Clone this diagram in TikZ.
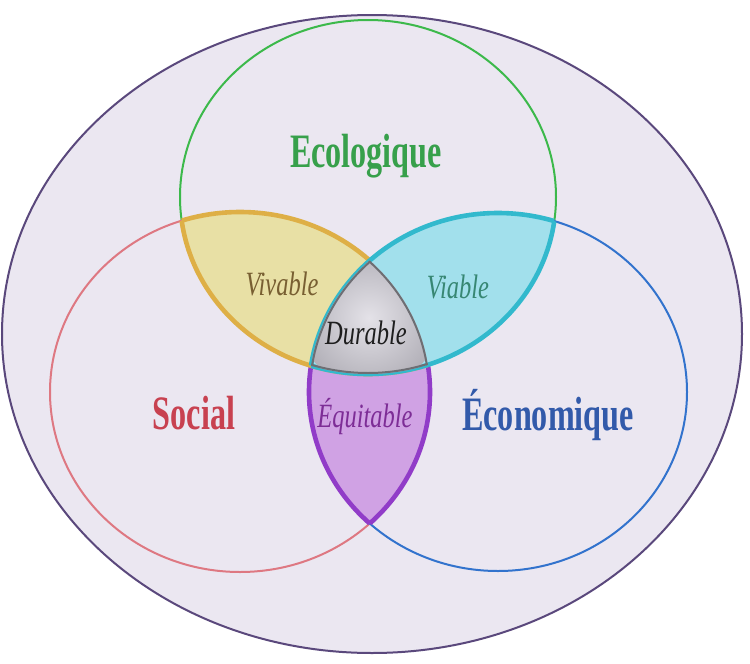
\documentclass[tikz,border=0pt]{standalone}
\usepackage{fontspec}
\setmainfont{Liberation Serif}
\newfontfamily\narrowserif[FakeStretch=0.67]{Liberation Serif}
\newfontfamily\narrowital[FakeStretch=0.72]{Liberation Serif}
\usepackage{xcolor}
\usetikzlibrary{calc}

\definecolor{bgcol}{RGB}{235,231,241}
\definecolor{rimcol}{RGB}{90,72,124}
\definecolor{ecoline}{RGB}{60,185,75}
\definecolor{socline}{RGB}{222,120,130}
\definecolor{ecnline}{RGB}{50,115,205}
\definecolor{vivfill}{RGB}{232,224,165}
\definecolor{vivline}{RGB}{222,175,70}
\definecolor{viafill}{RGB}{162,224,236}
\definecolor{vialine}{RGB}{50,185,205}
\definecolor{equfill}{RGB}{208,162,228}
\definecolor{equline}{RGB}{145,60,200}
\definecolor{durin}{RGB}{228,226,232}
\definecolor{durout}{RGB}{178,176,184}
\definecolor{durline}{RGB}{110,110,115}
\definecolor{ecotext}{RGB}{55,160,75}
\definecolor{soctext}{RGB}{200,65,80}
\definecolor{ecntext}{RGB}{50,90,170}
\definecolor{vivtext}{RGB}{120,95,50}
\definecolor{viatext}{RGB}{55,135,115}
\definecolor{durtext}{RGB}{30,30,30}
\definecolor{equtext}{RGB}{125,45,150}

\def\ecology{(368,197) ellipse [x radius=188pt, y radius=177pt]}
\def\society{(240,392) ellipse [x radius=190pt, y radius=180pt]}
\def\economy{(498,392) ellipse [x radius=189pt, y radius=179pt]}

\begin{document}
\begin{tikzpicture}[x=1pt,y=-1pt,
	ring/.style={line width=2pt},
	lens/.style={line width=4.6pt},
	title/.style={font=\narrowserif\fontsize{48}{48}\selectfont\bfseries,anchor=base,inner sep=0},
	tag/.style={font=\narrowital\fontsize{34}{34}\selectfont\itshape,anchor=base,inner sep=0}]
	\useasboundingbox (0,0) rectangle (750,664);
	
	%background
	\filldraw[fill=bgcol,draw=rimcol,line width=2pt] (372,334) ellipse [x radius=370pt, y radius=319pt];
	%three circles
	\draw[ring,ecoline] \ecology;
	\draw[ring,socline] \society;
	\draw[ring,ecnline] \economy;
	%social and economy
	\begin{scope}
		\clip \society;
		\fill[equfill] \economy;
		\draw[lens,equline] \economy;
	\end{scope}
	\begin{scope}
		\clip \economy;
		\draw[lens,equline] \society;
	\end{scope}
	%social and ecology
	\begin{scope}
		\clip \society;
		\fill[vivfill] \ecology;
		\draw[lens,vivline] \ecology;
	\end{scope}
	\begin{scope}
		\clip \ecology;
		\draw[lens,vivline] \society;
	\end{scope}
	%economy and ecology
	\begin{scope}
		\clip \economy;
		\fill[viafill] \ecology;
		\draw[lens,vialine] \ecology;
	\end{scope}
	\begin{scope}
		\clip \ecology;
		\draw[lens,vialine] \economy;
	\end{scope}
	%all three
	\begin{scope}
		\clip \ecology;
		\clip \society;
		\clip \economy;
		\shade[inner color=durin,outer color=durout] (369,318) circle (70pt);
		\draw[line width=4pt,durline] \ecology;
		\draw[line width=4pt,durline] \society;
		\draw[line width=4pt,durline] \economy;
	\end{scope}
	
	\node[title,text=ecotext] (eco) at (366,167) {Ecologique};
	\node[title,text=soctext] (soc) at (194,429) {Social};
	\node[title,text=ecntext] (ecn) at (548,430) {Économique};
	\node[tag,text=vivtext] (viv) at (282,295) {Vivable};
	\node[tag,text=viatext] (via) at (458,298) {Viable};
	\node[tag,text=durtext] (dur) at (366,344) {Durable};
	\node[tag,text=equtext] (equ) at (365,427) {Équitable};
\end{tikzpicture}
\end{document}
